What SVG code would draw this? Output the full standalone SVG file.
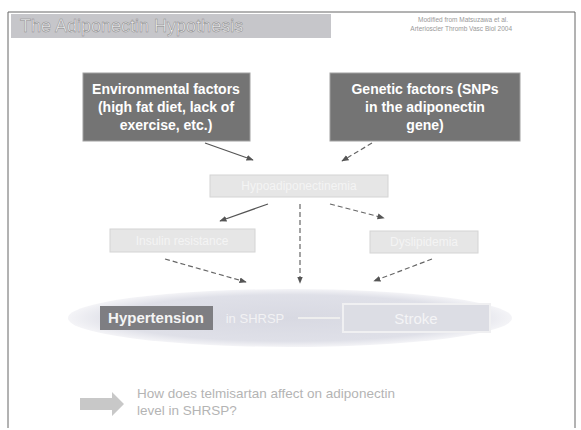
<svg xmlns="http://www.w3.org/2000/svg" width="581" height="430" viewBox="0 0 581 430">
<defs>
<style>
.t{font-family:"Liberation Sans",Arial,sans-serif}
.dark{fill:#747474;stroke:#a0a0a0;stroke-width:1}
.light{fill:#e6e6e6;stroke:#d4d4d4;stroke-width:1}
.wt{fill:#ffffff;font-weight:bold;font-size:14px;text-anchor:middle}
.lt{fill:#f4f4f4;font-size:12px;text-anchor:middle}
.c{stroke:#555;stroke-width:1.2;fill:none}
.d{stroke:#666;stroke-width:1.2;fill:none;stroke-dasharray:5 3}
</style>
<marker id="ah" viewBox="0 0 10 10" refX="9" refY="5" markerWidth="6" markerHeight="6" orient="auto"><path d="M0,1 L10,5 L0,9 z" fill="#555"/></marker>
<radialGradient id="eg" cx="0.5" cy="0.5" r="0.5"><stop offset="0" stop-color="#d8d9e2"/><stop offset="0.8" stop-color="#dfe0e8"/><stop offset="1" stop-color="#f4f4f7"/></radialGradient>
</defs>
<rect width="581" height="430" fill="#ffffff"/>
<g id="frame"><path d="M8,12 L8,428 M8,12 L575,12 L575,428" stroke="#666" stroke-width="1" fill="none"/></g>
<g id="title">
<rect x="11" y="14" width="320" height="24" fill="#c6c6ca"/>
<text class="t" x="20" y="32" font-size="18" fill="#eeeef0" stroke="#888" stroke-width="0.5">The Adiponectin Hypothesis</text>
</g>
<g id="source">
<text class="t" x="508" y="22" font-size="6.5" fill="#999" text-anchor="end">Modified from Matsuzawa et al.</text>
<text class="t" x="512" y="31" font-size="6.5" fill="#999" text-anchor="end">Arterioscler Thromb Vasc Biol 2004</text>
</g>
<g id="connectors">
<path class="c" d="M205,143 L253,160" marker-end="url(#ah)"/>
<path class="d" d="M372,143 L342,161" marker-end="url(#ah)"/>
<path class="c" d="M268,204 L220,221" marker-end="url(#ah)"/>
<path class="d" d="M300,204 L300,283" marker-end="url(#ah)"/>
<path class="d" d="M330,204 L384,218" marker-end="url(#ah)"/>
<path class="d" d="M165,259 L246,282" marker-end="url(#ah)"/>
<path class="d" d="M432,259 L374,281" marker-end="url(#ah)"/>
</g>
<g id="env">
<rect class="dark" x="83" y="73" width="167" height="68"/>
<text class="t wt" x="166" y="94">Environmental factors</text>
<text class="t wt" x="166" y="112">(high fat diet, lack of</text>
<text class="t wt" x="166" y="130">exercise, etc.)</text>
</g>
<g id="genetic">
<rect class="dark" x="330" y="73" width="190" height="68"/>
<text class="t wt" x="425" y="94">Genetic factors (SNPs</text>
<text class="t wt" x="425" y="112">in the adiponectin</text>
<text class="t wt" x="425" y="130">gene)</text>
</g>
<g id="hypo">
<rect class="light" x="210" y="175" width="178" height="22"/>
<text class="t lt" x="299" y="190">Hypoadiponectinemia</text>
</g>
<g id="insulin">
<rect class="light" x="110" y="229" width="145" height="23"/>
<text class="t lt" x="182" y="245">Insulin resistance</text>
</g>
<g id="dyslip">
<rect class="light" x="370" y="231" width="108" height="22"/>
<text class="t lt" x="424" y="246">Dyslipidemia</text>
</g>
<g id="outcome">
<ellipse cx="290" cy="318" rx="222" ry="29" fill="url(#eg)"/>
<rect x="100" y="306" width="113" height="24" fill="#7e7e82"/>
<text class="t" x="156" y="323" font-size="15" font-weight="bold" fill="#f4f4f4" text-anchor="middle">Hypertension</text>
<text class="t" x="255" y="323" font-size="13" fill="#f2f2f4" text-anchor="middle">in SHRSP</text>
<line x1="298" y1="318" x2="340" y2="318" stroke="#eee" stroke-width="2"/>
<rect x="343" y="304" width="147" height="28" fill="#dcdde4" stroke="#f0f0f2" stroke-width="2"/>
<text class="t" x="416" y="324" font-size="15" fill="#f4f4f6" text-anchor="middle">Stroke</text>
</g>
<g id="question">
<path d="M80,398 L112,398 L112,392 L124,404 L112,416 L112,410 L80,410 z" fill="#c8c8c8"/>
<text class="t" x="137" y="398" font-size="13.5" fill="#b4b4b4">How does telmisartan affect on adiponectin</text>
<text class="t" x="137" y="415" font-size="13.5" fill="#b4b4b4">level in SHRSP?</text>
</g>
</svg>
